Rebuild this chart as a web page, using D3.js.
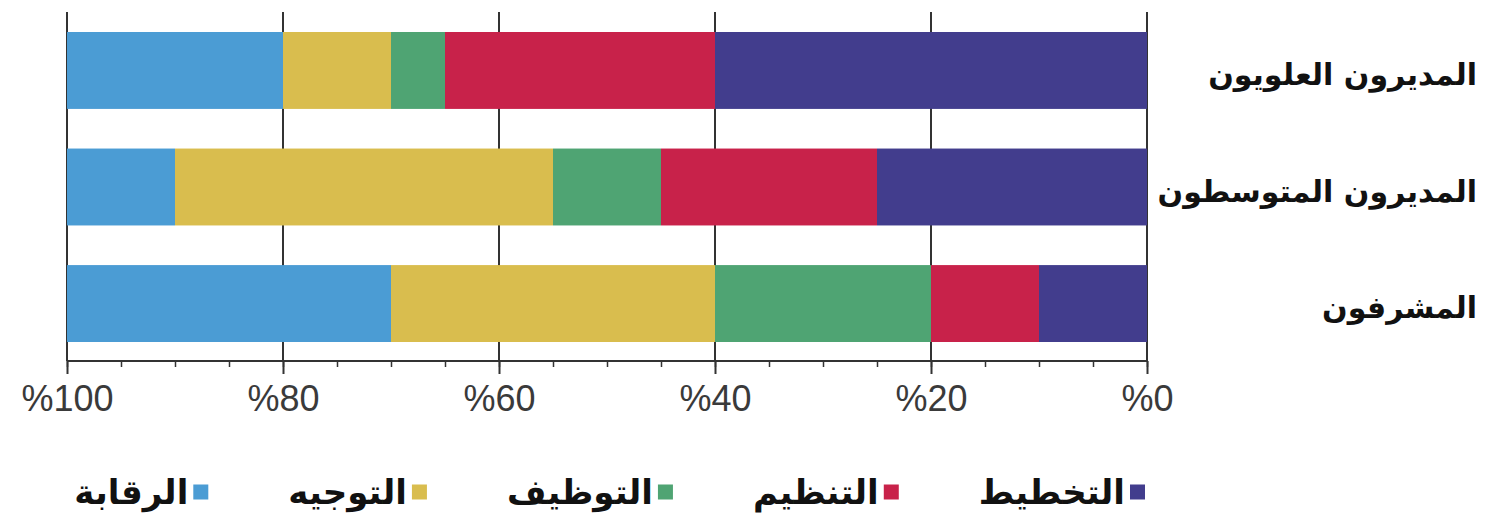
<!DOCTYPE html>
<html>
<head>
<meta charset="utf-8">
<script src="https://cdn.jsdelivr.net/npm/d3@7"></script>
<style>
	body { margin: 0; background: #fff; }
	.tick_text { font-family: "Liberation Sans", sans-serif; font-size: 36px; fill: #3a3a3a; }
	.cat_text { font-family: "DejaVu Sans", sans-serif; font-weight: bold; font-size: 30px; fill: #111; }
	.leg_text { font-family: "DejaVu Sans", sans-serif; font-weight: bold; font-size: 34px; fill: #111; }
</style>
</head>
<body>
<div id="chart"></div>
<script>
var width = 1493,
	height = 520,
	plotLeft = 67,
	plotRight = 1147,
	barTop = 32,
	barBottom = 342,
	gridTop = 12,
	axisY = 361;

// categories, top to bottom
var groups = ["المديرون العلويون", "المديرون المتوسطون", "المشرفون"];
// series, stacked from the 0% side (right) outward
var series = ["التخطيط", "التنظيم", "التوظيف", "التوجيه", "الرقابة"];
var colors = ["#423d8d", "#c8224a", "#4fa473", "#d9bd4e", "#4b9cd4"];
var planning   = [40, 25, 10];
var organizing = [25, 20, 10];
var staffing   = [5, 10, 20];
var directing  = [10, 35, 30];
var controlling = [20, 10, 30];
var tickValues = [100, 80, 60, 40, 20, 0];

var values = [planning, organizing, staffing, directing, controlling];

var rows = groups.map(function(g, i) {
	var r = { group: g };
	series.forEach(function(s, j) { r[s] = values[j][i]; });
	return r;
});

var stack = d3.stack().keys(series)(rows);

var x = d3.scaleLinear().domain([100, 0]).range([plotLeft, plotRight]);
var y = d3.scaleBand().domain(groups).range([barTop, barBottom]).paddingInner(0.34).paddingOuter(0);

var svg = d3.select("#chart").append("svg")
	.attr("width", width)
	.attr("height", height);

// vertical grid lines (behind the bars)
svg.selectAll(".grid")
	.data(tickValues)
	.enter().append("line")
	.attr("class", "grid")
	.attr("x1", function(d) { return x(d); })
	.attr("x2", function(d) { return x(d); })
	.attr("y1", gridTop)
	.attr("y2", axisY)
	.style("stroke", "#333")
	.style("stroke-width", 2);

// bars
var layer = svg.selectAll(".layer")
	.data(stack)
	.enter().append("g")
	.attr("class", "layer")
	.style("fill", function(d, i) { return colors[i]; });

layer.selectAll("rect")
	.data(function(d) { return d; })
	.enter().append("rect")
	.attr("x", function(d) { return x(d[1]); })
	.attr("width", function(d) { return x(d[0]) - x(d[1]); })
	.attr("y", function(d) { return y(d.data.group); })
	.attr("height", y.bandwidth());

// axis
var axis = d3.axisBottom(x)
	.tickValues(tickValues)
	.tickSize(13)
	.tickPadding(10)
	.tickFormat(function(d) { return "%" + d; });

var minorAxis = d3.axisBottom(x)
	.tickValues(d3.range(0, 101, 5))
	.tickSize(6)
	.tickFormat("");

var ga = svg.append("g").attr("transform", "translate(0," + axisY + ")");
ga.call(minorAxis);
ga.select(".domain").remove();
ga.selectAll("line").style("stroke", "#333").style("stroke-width", 1.5);

var gb = svg.append("g").attr("transform", "translate(0," + axisY + ")");
gb.call(axis);
gb.select(".domain").attr("d", "M" + plotLeft + ",0H" + plotRight).style("stroke", "#333").style("stroke-width", 2);
gb.selectAll("line").style("stroke", "#333").style("stroke-width", 2);
gb.selectAll("text").attr("class", "tick_text").attr("dy", "0.75em");

// category labels
svg.selectAll(".cat_text")
	.data(groups)
	.enter().append("text")
	.attr("class", "cat_text")
	.attr("x", 1477)
	.attr("y", function(d) { return y(d) + y.bandwidth() / 2 + 6; })
	.attr("text-anchor", "end")
	.attr("dominant-baseline", "middle")
	.text(function(d) { return d; });

// legend, laid out from the right
var legend = svg.append("g").attr("class", "legend");
var lx = 1145, ly = 492, sq = 15;
series.forEach(function(s, i) {
	legend.append("rect")
		.attr("x", lx - sq)
		.attr("y", ly - sq / 2)
		.attr("width", sq)
		.attr("height", sq)
		.style("fill", colors[i]);
	var t = legend.append("text")
		.attr("class", "leg_text")
		.attr("x", lx - sq - 5)
		.attr("y", ly + 2)
		.attr("text-anchor", "end")
		.attr("dominant-baseline", "middle")
		.text(s);
	lx = lx - sq - 5 - t.node().getComputedTextLength() - 80;
});
</script>
</body>
</html>
